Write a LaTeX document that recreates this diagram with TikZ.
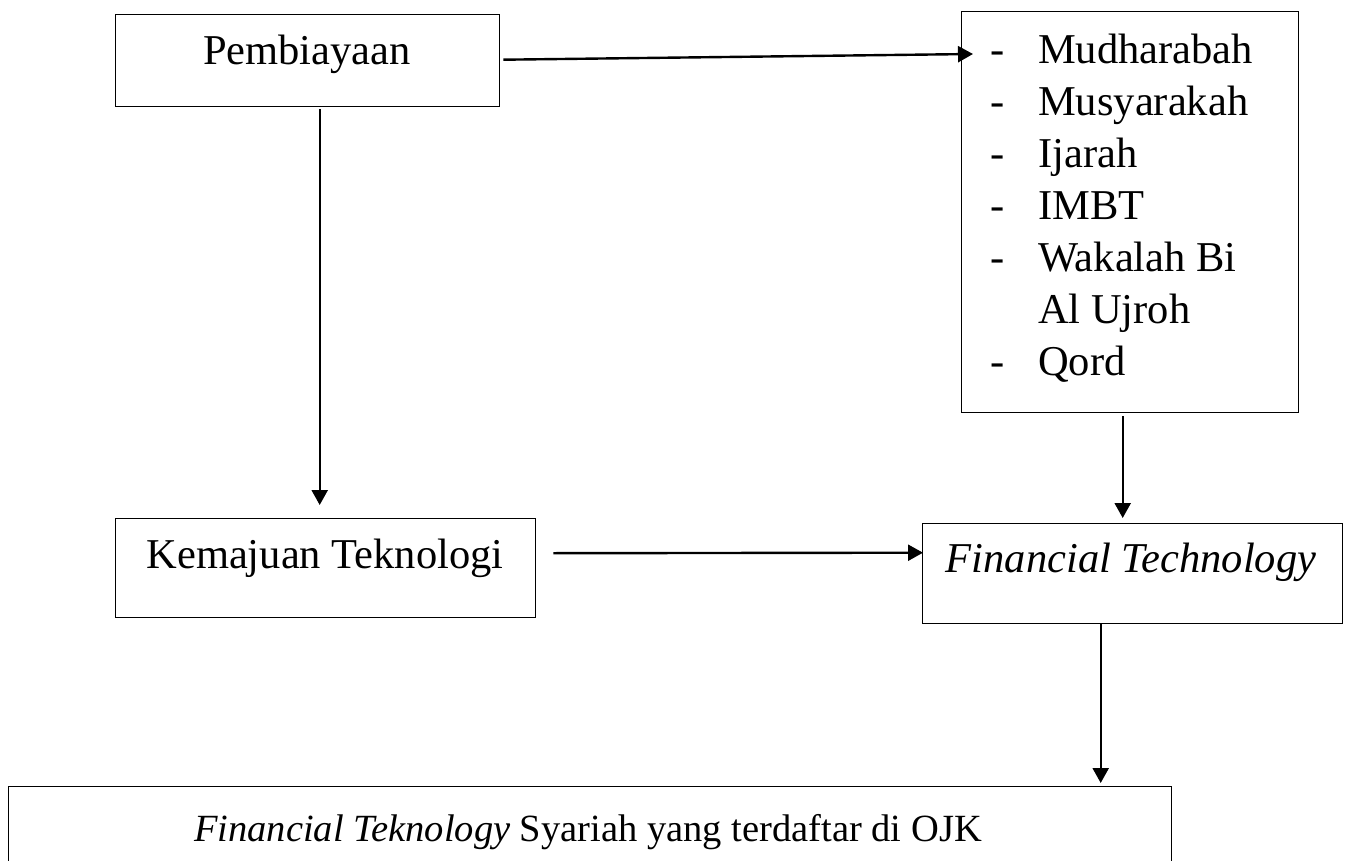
\documentclass[tikz,border=0pt]{standalone}
\usepackage{fontspec}
\setmainfont{Liberation Serif}
\usetikzlibrary{arrows.meta,calc}
\begin{document}
\begin{tikzpicture}[x=1pt,y=-1pt,
  boxed/.style={draw, line width=1.4pt, inner sep=0pt, anchor=north west},
  lbl/.style={font=\fontsize{42.5}{52}\selectfont, inner sep=0pt, anchor=base},
  conn/.style={line width=2.4pt, -{Triangle[length=15pt,width=16pt]}}]
\fill[white] (0,0) rectangle (1349,861);
\useasboundingbox (0,0) rectangle (1349,861);
\clip (0,0) rectangle (1349,861);
% boxes
\node[boxed, minimum width=384pt, minimum height=92pt] (pemb) at (115,14) {};
\node[lbl] (pembT) at (307,65) {Pembiayaan};
\node[boxed, minimum width=337pt, minimum height=401pt] (list) at (961,11) {};
\node[lbl, anchor=base west] (listT) at (990,64) {\begin{tabular}[t]{@{}l@{}}
\makebox[48pt][l]{-}Mudharabah\\
\makebox[48pt][l]{-}Musyarakah\\
\makebox[48pt][l]{-}Ijarah\\
\makebox[48pt][l]{-}IMBT\\
\makebox[48pt][l]{-}Wakalah Bi\\
\makebox[48pt][l]{}Al Ujroh\\
\makebox[48pt][l]{-}Qord
\end{tabular}};
\node[boxed, minimum width=420pt, minimum height=99pt] (kem) at (115,518) {};
\node[lbl] (kemT) at (325,568) {Kemajuan Teknologi};
\node[boxed, minimum width=420pt, minimum height=100pt] (ft) at (922,523) {};
\node[lbl] (ftT) at (1131,572) {\itshape Financial Technology};
\node[boxed, minimum width=1163pt, minimum height=120pt] (ojk) at (8,786) {};
\node[lbl, font=\fontsize{38.5}{46}\selectfont] (ojkT) at (588,841) {\textit{Financial Teknology} Syariah yang terdaftar di OJK};
% connectors
\draw[conn] ($(pemb.east)+(3,-1)$) -- ($(list.north west)+(12,43)$);
\draw[conn] ($(pemb.south)+(12,2)$) -- ($(kem.north)+(-6,-13)$);
\draw[conn] ($(list.south)+(-7.5,3)$) -- ($(ft.north)+(-10,-5)$);
\draw[conn] ($(kem.east)+(17,-15)$) -- ($(ft.west)+(1,-21)$);
\draw[conn] ($(ft.south)+(-32,0)$) -- ($(ojk.north)+(510.5,-3)$);
\end{tikzpicture}
\end{document}
